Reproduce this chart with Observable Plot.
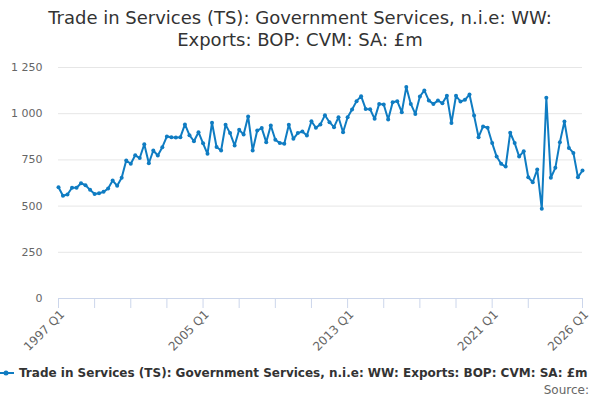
<!DOCTYPE html>
<html><head><meta charset="utf-8">
<script src="https://cdn.jsdelivr.net/npm/d3@7"></script>
<script src="https://cdn.jsdelivr.net/npm/@observablehq/plot@0.6"></script>
<style>
body{margin:0;width:600px;height:400px;overflow:hidden;position:relative;background:#fff;font-family:"DejaVu Sans",sans-serif;}
#title{position:absolute;top:7px;left:0;width:600px;text-align:center;font-size:18px;color:#333;line-height:22px;}
#chart{position:absolute;top:55px;left:0;}
#legend{position:absolute;top:366px;left:-2px;white-space:nowrap;font-size:12px;font-weight:bold;color:#333;display:flex;align-items:center;}
#source{position:absolute;top:383px;right:11px;font-size:12px;color:#666;}
</style></head>
<body>
<div id="title">Trade in Services (TS): Government Services, n.i.e: WW:<br>Exports: BOP: CVM: SA: £m</div>
<div id="chart"></div>
<div id="legend"><svg width="18" height="12" style="margin-right:3px"><line x1="0" y1="6" x2="16" y2="6" stroke="#0f7cc2" stroke-width="2"/><circle cx="8" cy="6" r="2.5" fill="#0f7cc2"/></svg><span>Trade in Services (TS): Government Services, n.i.e: WW: Exports: BOP: CVM: SA: £m</span></div>
<div id="source">Source:</div>
<script>
const seriesName = "Trade in Services (TS): Government Services, n.i.e: WW: Exports: BOP: CVM: SA: £m";
const firstYear = 1997;
const values = [
  602, 556, 563, 599, 599, 624, 613, 588, 566, 570, 577, 595, 638, 610, 653, 747,
  729, 775, 760, 835, 732, 801, 774, 819, 877, 873, 871, 873, 942, 884, 851, 900,
  840, 783, 951, 820, 801, 940, 895, 828, 913, 887, 985, 801, 909, 922, 846, 936,
  859, 841, 837, 940, 864, 895, 904, 882, 959, 924, 942, 992, 954, 927, 981, 900,
  981, 1023, 1068, 1095, 1026, 1024, 972, 1053, 1050, 969, 1062, 1068, 1008, 1144, 1053, 999,
  1093, 1126, 1071, 1053, 1071, 1057, 1097, 949, 1097, 1066, 1075, 1104, 990, 873, 931, 924,
  841, 768, 729, 714, 897, 841, 768, 797, 656, 629, 698, 485, 1086, 653, 707, 846, 958, 815, 788, 656, 693
];
const yTicks = [0, 250, 500, 750, 1000, 1250];
const xTickYears = [1997, 1999, 2001, 2003, 2005, 2007, 2009, 2011, 2013, 2015, 2017, 2019, 2021, 2023, 2026];
const xLabelYears = [1997, 2005, 2013, 2021, 2026];
const color = "#0f7cc2";

const qDate = (y, q) => new Date(Date.UTC(y, (q - 1) * 3, 1));
const data = values.map((v, i) => ({
  date: qDate(firstYear + Math.floor(i / 4), (i % 4) + 1),
  label: `${firstYear + Math.floor(i / 4)} Q${(i % 4) + 1}`,
  value: v
}));
const tickDates = xTickYears.map(y => qDate(y, 1));
const labelDates = xLabelYears.map(y => qDate(y, 1));
const fmtY = d => d3.format(",")(d).replace(/,/g, " ");

const chart = Plot.plot({
  width: 600, height: 300,
  marginLeft: 58, marginRight: 18, marginTop: 12, marginBottom: 57,
  x: {type: "utc", domain: [qDate(1997, 1), qDate(2026, 1)]},
  y: {domain: [0, 1250]},
  style: {fontFamily: "DejaVu Sans, sans-serif", fontSize: "11px", color: "#666", background: "#fff"},
  marks: [
    Plot.gridY(yTicks, {stroke: "#e6e6e6", strokeOpacity: 1}),
    Plot.axisY(yTicks, {tickSize: 0, tickPadding: 16, tickFormat: fmtY, fill: "#666", label: null}),
    Plot.ruleY([0], {stroke: "#ccd6eb"}),
    Plot.axisX(tickDates, {tickSize: 10, stroke: "#ccd6eb", strokeOpacity: 1, tickFormat: () => "", label: null}),
    Plot.axisX(labelDates, {
      tickSize: 0, fill: "#666", tickRotate: -45, tickPadding: 14, label: null, fontSize: 12, dx: 4,
      tickFormat: d => `${d.getUTCFullYear()} Q1`
    }),
    Plot.line(data, {x: "date", y: "value", stroke: color, strokeWidth: 2}),
    Plot.dot(data, {x: "date", y: "value", r: 2, fill: color, stroke: "none", title: d => `${d.label}: ${d.value}`})
  ]
});
document.getElementById("chart").appendChild(chart);
</script>
</body></html>
